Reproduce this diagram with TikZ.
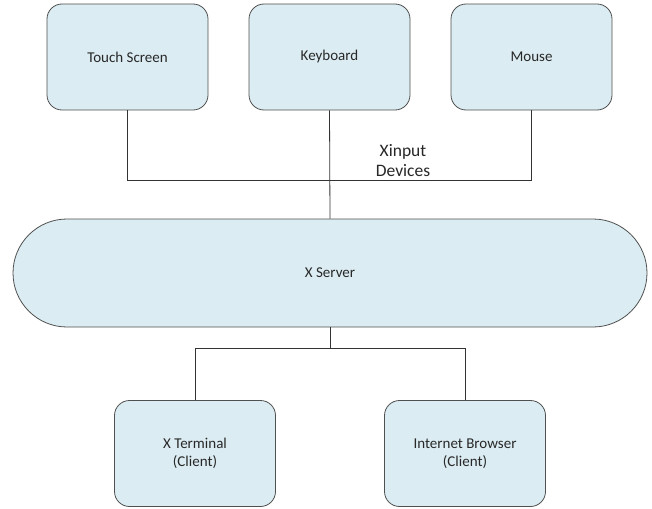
\documentclass[tikz,border=0pt]{standalone}
\usepackage{fontspec}
\setmainfont{Carlito}
\usepackage{tikz}
\definecolor{paleblue}{RGB}{219,236,242}
\definecolor{edgegray}{RGB}{80,80,80}
\definecolor{textgray}{RGB}{40,40,40}
\tikzset{
  devbox/.style={draw=edgegray, fill=paleblue, rectangle, rounded corners=15pt,
    minimum width=161pt, minimum height=106pt, font=\fontsize{15}{18}\selectfont,
    text=textgray, align=center, line width=0.8pt},
  wire/.style={draw=black!80, line width=0.8pt}
}

\begin{document}
\begin{tikzpicture}[x=1pt,y=-1pt]

    \useasboundingbox[fill=white] (0,0) rectangle (652,508);

                % input devices
                \node[devbox] (ts) at (127.5,57) {Touch Screen};
                \node[devbox] (kb) at (329.5,57) {Keyboard};
                \node[devbox] (ms) at (531.5,57) {Mouse};

                % server
                \node[devbox, minimum width=634pt, minimum height=108pt, rounded corners=54pt] (xs) at (330,273) {X Server};

                % clients
                \node[devbox] (xt) at (195,453.5) {X Terminal\\(Client)};
                \node[devbox] (ib) at (465,453.5) {Internet Browser\\(Client)};

                % wires
                \draw[wire] (ts.south) -- ++(0,70) -| (ms.south);
                \draw[wire] (kb.south) -- (xs.north);
                \node[font=\fontsize{17.5}{20}\selectfont, text=textgray, align=center] (xin) at (403,161) {Xinput\\Devices};

                \draw[wire] (xs.south) -- ++(0,21) coordinate (split);
                \draw[wire] (xt.north) |- (split) -| (ib.north);

\end{tikzpicture}
\end{document}
